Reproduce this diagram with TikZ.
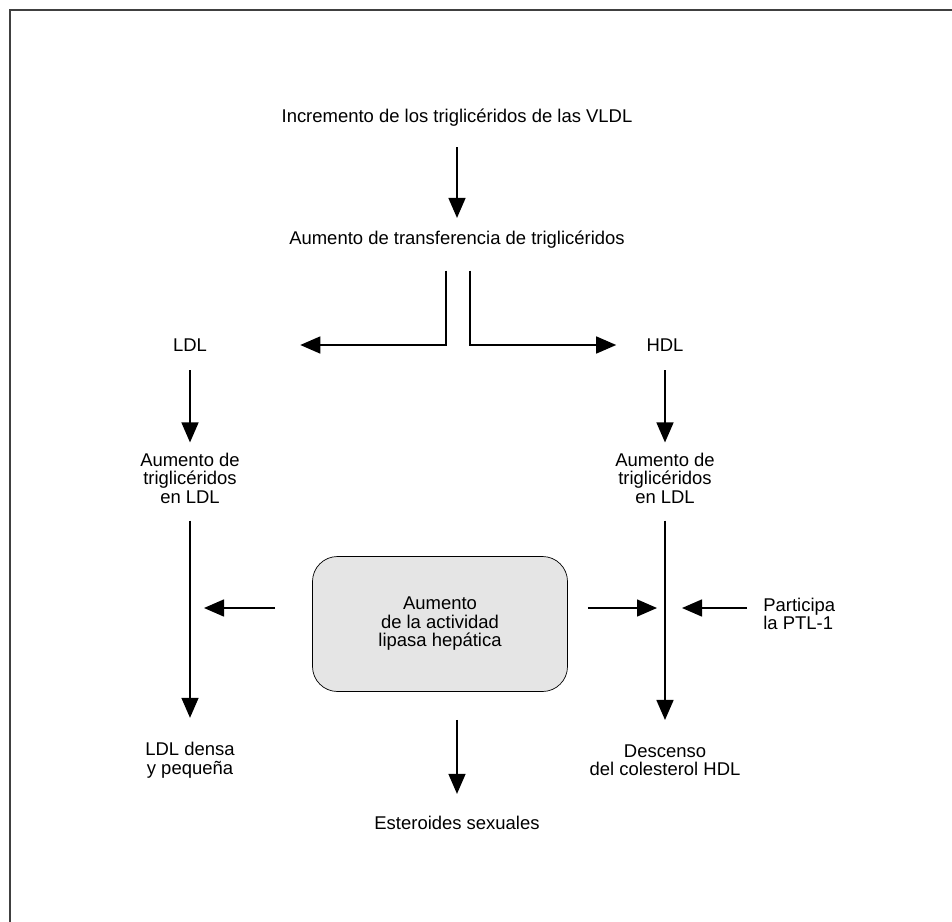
\documentclass[tikz,border=0pt]{standalone}
\usepackage{fontspec}
\setmainfont{Liberation Sans}
\usetikzlibrary{arrows.meta}

\begin{document}
\begin{tikzpicture}
[x=0.2mm, y=-0.2mm,
 txt/.style={align=center, inner sep=0pt, font=\fontsize{10.5}{10.5}\selectfont},
 caja/.style={draw=black, thin, fill=black!10, rounded corners=5mm, minimum width=51mm, minimum height=27mm},
 ->/.style={line width=0.3mm, arrows={-Triangle[length=4mm, width=3.4mm]}}]
\useasboundingbox (0,0) rectangle (952,922);
\draw[line width=0.4mm, black!75] (952,10) -- (9.5,10) -- (9.5,922);
\node[txt] (vldl) at (457,118) {Incremento de los triglicéridos de las VLDL};
\node[txt] (transf) at (457,240) {Aumento de transferencia de triglicéridos};
\node[txt] (ldl) at (190,345) {LDL};
\node[txt] (hdl) at (665,345) {HDL};
\node[txt] (tgl) at (190,478) {Aumento de\\triglicéridos\\en LDL};
\node[txt] (tgh) at (665,478) {Aumento de\\triglicéridos\\en LDL};
\node[txt, caja] (lipasa) at (440,624) {Aumento\\de la actividad\\lipasa hepática};
\node[txt, align=left, anchor=west] (ptl) at (763,614) {Participa\\la PTL-1};
\node[txt] (densa) at (190,760) {LDL densa\\y pequeña};
\node[txt] (desc) at (665,760) {Descenso\\del colesterol HDL};
\node[txt] (ester) at (457,823) {Esteroides sexuales};
\draw[->] ([yshift=-4mm]vldl.south) -- ([yshift=2.6mm]transf.north);
\draw[->] ([xshift=-2.2mm,yshift=-4.3mm]transf.south) |- ([xshift=18.6mm]ldl.east);
\draw[->] ([xshift=2.6mm,yshift=-4.3mm]transf.south) |- ([xshift=-6mm]hdl.west);
\draw[->] ([yshift=-3.7mm]ldl.south) -- ([yshift=2mm]tgl.north);
\draw[->] ([yshift=-3.7mm]hdl.south) -- ([yshift=2mm]tgh.north);
\draw[->] ([yshift=-3.4mm]tgl.south) -- ([yshift=4.8mm]densa.north);
\draw[->] ([yshift=-3.4mm]tgh.south) -- ([yshift=4.8mm]desc.north);
\coordinate (l1) at ([xshift=-7.4mm,yshift=3.2mm]lipasa.west);
\coordinate (r1) at ([xshift=4mm,yshift=3.2mm]lipasa.east);
\coordinate (p1) at ([xshift=-3.2mm,yshift=1.2mm]ptl.west);
\draw[->, shorten >=2.8mm] (l1) -- (l1 -| tgl.south);
\draw[->, shorten >=1.6mm] (r1) -- (r1 -| tgh.south);
\draw[->, shorten >=3.4mm] (p1) -- (p1 -| tgh.south);
\draw[->, shorten <=5.6mm, shorten >=4.4mm] (ester.north |- lipasa.south) -- (ester.north);
\end{tikzpicture}
\end{document}
